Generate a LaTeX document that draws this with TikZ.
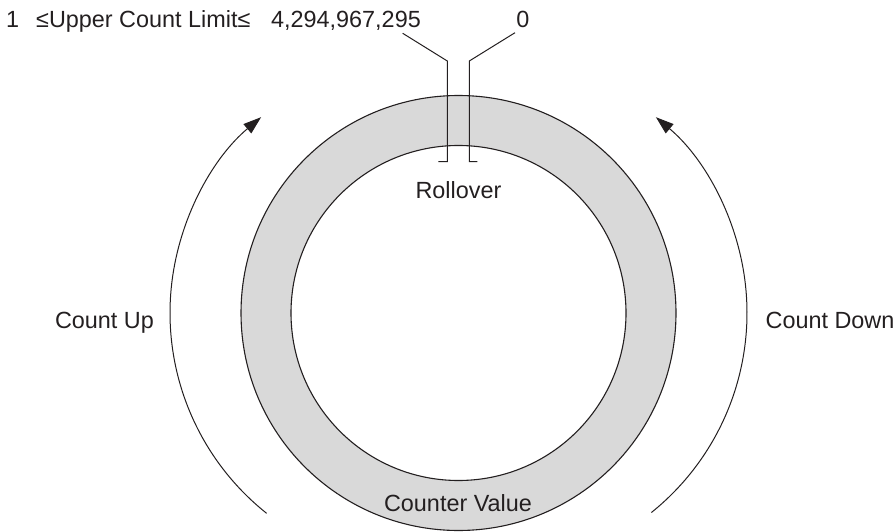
\documentclass[tikz,border=0pt]{standalone}
\usepackage{fontspec}
\setmainfont{Liberation Sans}
\usetikzlibrary{arrows.meta}
\definecolor{ringgray}{RGB}{217,217,217}
\definecolor{ink}{RGB}{35,31,32}
\begin{document}
\begin{tikzpicture}[x=1pt,y=1pt,
  lbl/.style={inner sep=0pt,text=ink,font=\fontsize{23.4}{28}\selectfont},
  ringline/.style={draw=ink,line width=1.1pt},
  leader/.style={draw=ink,line width=1pt},
  turn/.style={draw=ink,line width=1pt,-{Triangle[length=18pt,width=12pt]}}]
\useasboundingbox (0,0) rectangle (894,531);
\coordinate (c) at (458.5,218);
% ring
\fill[ringgray,even odd rule] (c) circle[radius=217.5] (c) circle[radius=167.5];
\draw[ringline] (c) circle[radius=217.5];
\draw[ringline] (c) circle[radius=167.5];
% text
\node[lbl,anchor=base west] (one) at (6,503) {1};
\node[lbl,anchor=base west] (limit) at (36,503) {≤Upper Count Limit≤};
\node[lbl,anchor=base east] (max) at (421,503) {4,294,967,295};
\node[lbl,anchor=base] (zero) at (523,503) {0};
\node[lbl,anchor=base] (roll) at (458.5,332.7) {Rollover};
\node[lbl,anchor=base] (up) at (104.5,203) {Count Up};
\node[lbl,anchor=base] (down) at (830,203) {Count Down};
\node[lbl,anchor=base] (val) at (458,19.3) {Counter Value};
% rollover leaders
\coordinate (la) at (402.7,497.7);
\coordinate (lb) at (447.3,470);
\coordinate (lc) at (447.3,369.3);
\coordinate (ld) at (438.3,369.3);
\coordinate (ra) at (515,498.3);
\coordinate (rb) at (469.3,470);
\coordinate (rc) at (469.3,369.3);
\coordinate (rd) at (477.3,369.3);
\draw[leader] (la) -- (lb) -- (lc) -- (ld);
\draw[leader] (ra) -- (rb) -- (rc) -- (rd);
% direction arcs
\coordinate (lcen) at (426,218);
\coordinate (rcen) at (491,218);
\draw[turn] ([shift={(231.5:256)}]lcen) arc[start angle=231.5,end angle=130.1,radius=256];
\draw[turn] ([shift={(-51.2:256)}]rcen) arc[start angle=-51.2,end angle=49.9,radius=256];
\end{tikzpicture}
\end{document}
